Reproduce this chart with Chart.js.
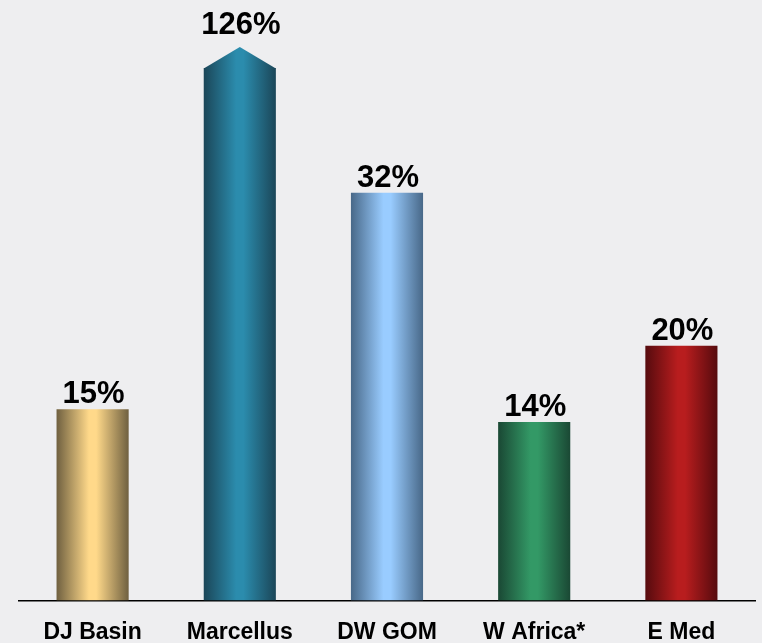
<!DOCTYPE html>
<html>
<head>
<meta charset="utf-8">
<script src="https://cdn.jsdelivr.net/npm/chart.js@4"></script>
<style>
  html, body { margin: 0; padding: 0; background: #eeeef0; overflow: hidden; }
  #wrap { width: 762px; height: 664px; }
</style>
</head>
<body>
<div id="wrap"><canvas id="chart"></canvas></div>
<script>
const regions = ['DJ Basin', 'Marcellus', 'DW GOM', 'W Africa*', 'E Med']
const growth = [15, 126, 32, 14, 20]
// edge / centre shades for the cylinder look of each bar
const edgeColors = ['#6f6040', '#1b4658', '#486888', '#1a4834', '#560b0e']
const midColors = ['#ffd98a', '#2b8cad', '#99ccff', '#339966', '#b81d1e']

const yMax = 41.8   // tallest bar is cut off at the top of the plot

function bandGradient(ctx, left, right, edge, mid) {
    let g = ctx.createLinearGradient(left, 0, right, 0)
    g.addColorStop(0, edge)
    g.addColorStop(0.45, mid)
    g.addColorStop(0.55, mid)
    g.addColorStop(1, edge)
    return g
}

const shadeBars = {
    id: 'shadeBars',
    beforeDatasetsDraw(chart) {
        const ctx = chart.ctx
        chart.getDatasetMeta(0).data.forEach((bar, i) => {
            const left = bar.x - bar.width / 2
            const right = bar.x + bar.width / 2
            bar.options.backgroundColor = bandGradient(ctx, left, right, edgeColors[i], midColors[i])
        })
    }
}

// arrow head on clipped bars + percent labels
const barLabels = {
    id: 'barLabels',
    afterDatasetsDraw(chart) {
        const ctx = chart.ctx
        const top = chart.chartArea.top
        ctx.save()
        chart.getDatasetMeta(0).data.forEach((bar, i) => {
            const left = bar.x - bar.width / 2
            const right = bar.x + bar.width / 2
            let labelY = bar.y - 6
            if (growth[i] > yMax) {
                const tip = top - 21
                ctx.beginPath()
                ctx.moveTo(left, top + 0.5)
                ctx.lineTo(bar.x, tip)
                ctx.lineTo(right, top + 0.5)
                ctx.closePath()
                ctx.fillStyle = bandGradient(ctx, left, right, edgeColors[i], midColors[i])
                ctx.fill()
                labelY = tip - 13
            }
            ctx.fillStyle = '#000'
            ctx.font = 'bold 31px "Liberation Sans", Arial, sans-serif'
            ctx.textAlign = 'center'
            ctx.textBaseline = 'alphabetic'
            ctx.fillText(growth[i] + '%', bar.x + 1, labelY)
        })
        ctx.restore()
    }
}

const chart = new Chart(document.getElementById('chart'), {
    type: 'bar',
    data: {
        labels: regions,
        datasets: [{
            data: growth,
            backgroundColor: midColors,
            borderWidth: 0,
            barPercentage: 0.49,
            categoryPercentage: 1
        }]
    },
    options: {
        responsive: true,
        maintainAspectRatio: false,
        animation: false,
        layout: { padding: { left: 19, right: 7, top: 68, bottom: 0 } },
        plugins: {
            legend: { display: false },
            tooltip: { enabled: false }
        },
        scales: {
            x: {
                grid: { display: false, drawTicks: false },
                border: { display: true, color: '#000', width: 1.5 },
                ticks: {
                    color: '#000',
                    padding: 18,
                    font: { family: '"Liberation Sans", Arial, sans-serif', size: 23, weight: 'bold' }
                }
            },
            y: {
                display: false,
                min: 0,
                max: yMax
            }
        }
    },
    plugins: [shadeBars, barLabels]
})
</script>
</body>
</html>
